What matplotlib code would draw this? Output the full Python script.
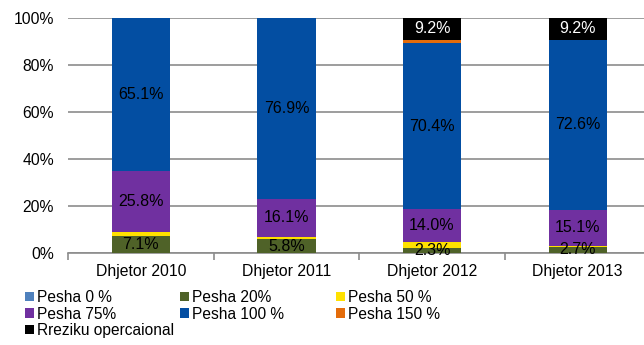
import matplotlib
matplotlib.use("Agg")
import matplotlib.pyplot as plt
from matplotlib.patches import Patch
import numpy as np

plt.rcParams['font.family'] = ['Liberation Sans', 'DejaVu Sans']

categories = ["Dhjetor 2010", "Dhjetor 2011", "Dhjetor 2012", "Dhjetor 2013"]
series_names = ["Pesha 0 %", "Pesha 20%", "Pesha 50 %", "Pesha 75%",
                "Pesha 100 %", "Pesha 150 %", "Rreziku opercaional"]
pesha_0 = [0.0, 0.0, 0.0, 0.0]
pesha_20 = [7.1, 5.8, 2.3, 2.7]
pesha_50 = [2.0, 1.2, 2.5, 0.4]
pesha_75 = [25.8, 16.1, 14.0, 15.1]
pesha_100 = [65.1, 76.9, 70.4, 72.6]
pesha_150 = [0.0, 0.0, 1.6, 0.0]
rreziku_op = [0.0, 0.0, 9.2, 9.2]
y_ticks = [0, 20, 40, 60, 80, 100]

series = [pesha_0, pesha_20, pesha_50, pesha_75, pesha_100, pesha_150, rreziku_op]
colors = ["#4F81BD", "#4F6228", "#FFE100", "#7030A0", "#034EA2", "#E46C0A", "#000000"]
# which series carry value labels, and their text colour
label_color = {1: "#000000", 3: "#000000", 4: "#000000", 6: "#FFFFFF"}

W, H = 644, 345
fig = plt.figure(figsize=(W / 100, H / 100), dpi=100)
ax = fig.add_axes([68 / W, 1 - 253 / H, (650.5 - 68) / W, (253 - 18) / H])

x = np.arange(len(categories))
bottom = np.zeros(len(categories))
for i, (vals, col) in enumerate(zip(series, colors)):
    vals = np.array(vals)
    ax.bar(x, vals, width=0.4, bottom=bottom, color=col, linewidth=0, zorder=3)
    if i in label_color:
        for xi, v, b in zip(x, vals, bottom):
            if v > 0:
                ax.text(xi, b + v / 2, f"{v:.1f}%", ha="center", va="center",
                        fontsize=11.5, color=label_color[i], zorder=4)
    bottom += vals

ax.set_xlim(-0.5, len(categories) - 0.5)
ax.set_ylim(0, 100)
ax.set_yticks(y_ticks)
ax.set_yticklabels([f"{t}%" for t in y_ticks])
ax.yaxis.grid(True, color="#8C8C8C", linewidth=1.2, zorder=0)
ax.set_axisbelow(True)

ax.set_xticks(x)
ax.set_xticklabels(categories)
ax.set_xticks(np.arange(-0.5, len(categories) + 0.5, 1), minor=True)
ax.tick_params(axis="x", which="major", length=0, pad=8, labelsize=11.3)
ax.tick_params(axis="x", which="minor", length=5, color="#8C8C8C", width=1.2)
ax.tick_params(axis="y", length=0, pad=10, labelsize=11.3)

for s in ["left", "right", "top"]:
    ax.spines[s].set_visible(False)
ax.spines["bottom"].set_color("#8C8C8C")
ax.spines["bottom"].set_linewidth(1.2)

# legend laid out in three evenly spaced columns
handles = [Patch(facecolor=c, edgecolor="none") for c in colors]
columns = [[0, 3, 6], [1, 4], [2, 5]]
col_x = [25, 180, 336]
for cx, idx in zip(col_x, columns):
    fig.legend([handles[k] for k in idx], [series_names[k] for k in idx],
               loc="upper left", bbox_to_anchor=(cx / W, 1 - 290 / H),
               frameon=False, fontsize=11.2, handlelength=0.55,
               handleheight=0.55, handletextpad=0.2, labelspacing=0.1,
               borderpad=0, borderaxespad=0)

fig.savefig("out.png", dpi=100)
